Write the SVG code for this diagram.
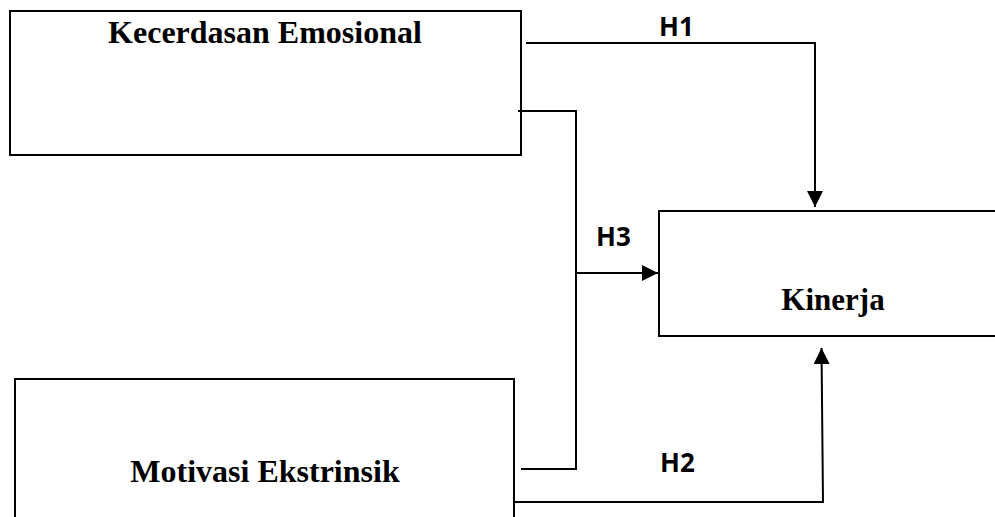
<svg xmlns="http://www.w3.org/2000/svg" width="995" height="517" viewBox="0 0 995 517">
<style>
.box{fill:#fff;stroke:#000;stroke-width:2}
.t{font-family:"Liberation Serif","Times New Roman",serif;font-weight:bold;font-size:32px;fill:#000;text-anchor:middle}
.h{font-family:"Open Sans","Noto Sans",sans-serif;font-weight:bold;font-size:26px;fill:#000}
.ln{fill:none;stroke:#000;stroke-width:2}
</style>
<defs>
<marker id="arr" viewBox="0 0 16 16" refX="16" refY="8" markerWidth="16" markerHeight="16" markerUnits="userSpaceOnUse" orient="auto">
<path d="M0,0 L16,8 L0,16 Z" fill="#000"/>
</marker>
</defs>
<rect width="995" height="517" fill="#fff"/>
<g id="node-kecerdasan">
<rect class="box" x="10" y="11" width="511" height="144"/>
<text class="t" x="265" y="43">Kecerdasan Emosional</text>
</g>
<g id="node-kinerja">
<rect class="box" x="659" y="211" width="345" height="125"/>
<text class="t" x="833" y="310" style="font-size:31px">Kinerja</text>
</g>
<g id="node-motivasi">
<rect class="box" x="15" y="379" width="499" height="150"/>
<text class="t" x="265" y="482">Motivasi Ekstrinsik</text>
</g>
<g id="connectors">
<path class="ln" d="M526,43 H815 V207" marker-end="url(#arr)"/>
<path class="ln" d="M518,111 H576 V469 H521"/>
<path class="ln" d="M575,273 H658" marker-end="url(#arr)"/>
<path class="ln" d="M514,502 H823 L821.5,348" marker-end="url(#arr)"/>
<text class="h" x="659" y="36">H1</text>
<text class="h" x="596" y="246">H3</text>
<text class="h" x="660" y="472">H2</text>
</g>
</svg>
